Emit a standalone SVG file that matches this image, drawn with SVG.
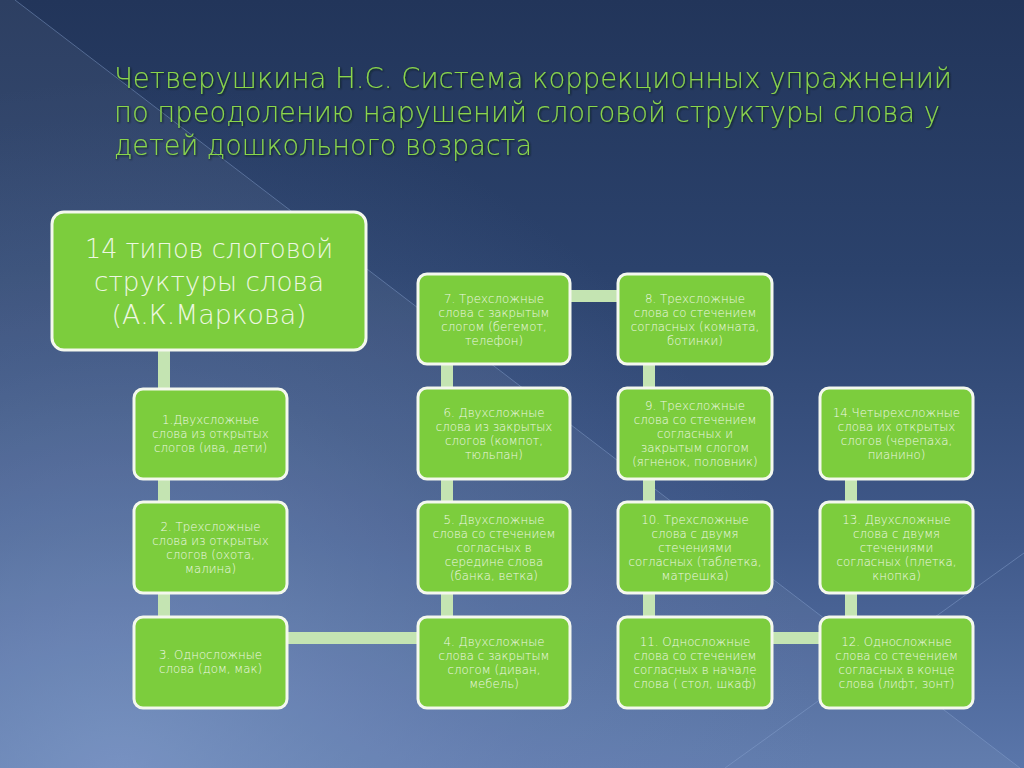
<svg xmlns="http://www.w3.org/2000/svg" width="1024" height="768" viewBox="0 0 1024 768">
  <defs>
    <linearGradient id="bg" x1="0" y1="0" x2="0" y2="1">
      <stop offset="0" stop-color="#22355a"/>
      <stop offset="0.35" stop-color="#2b426c"/>
      <stop offset="0.7" stop-color="#40598a"/>
      <stop offset="1" stop-color="#5a76aa"/>
    </linearGradient>
    <radialGradient id="glow" cx="120" cy="780" r="700" gradientUnits="userSpaceOnUse">
      <stop offset="0" stop-color="#7b97c8" stop-opacity="0.7"/>
      <stop offset="0.6" stop-color="#6a86b8" stop-opacity="0.22"/>
      <stop offset="1" stop-color="#6a86b8" stop-opacity="0"/>
    </radialGradient>
    <filter id="shadow" x="-5%" y="-20%" width="110%" height="140%">
      <feDropShadow dx="1" dy="1" stdDeviation="1.2" flood-color="#0b1a10" flood-opacity="0.8"/>
    </filter>
    <style>
      .title { font-family: "DejaVu Sans", "Liberation Sans", sans-serif; font-weight: 200; font-size: 29px; fill: #8ad64c; }
      .box { fill: #7ccd3d; stroke: #f4f8ee; stroke-width: 3; }
      .big { font-family: "DejaVu Sans", "Liberation Sans", sans-serif; font-weight: 200; font-size: 27px; fill: #eef7e2; text-anchor: middle; }
      .lbl { font-family: "DejaVu Sans", "Liberation Sans", sans-serif; font-weight: 200; font-size: 11.8px; fill: #eef7e4; text-anchor: middle; }
      .bar { fill: #c4e4b2; }
      .streak { stroke: #8aa4d0; stroke-width: 1; fill: none; opacity: 0.45; }
    </style>
  </defs>

  <!-- background -->
  <rect x="0" y="0" width="1024" height="768" fill="url(#bg)"/>
  <rect x="0" y="0" width="1024" height="768" fill="url(#glow)"/>
  <polygon points="0,0 15,0 1020,768 0,768" fill="#ffffff" opacity="0.05"/>
  <line class="streak" x1="15" y1="0" x2="1020" y2="768"/>
  <line class="streak" x1="725" y1="768" x2="1024" y2="553"/>

  <!-- title -->
  <g id="title" filter="url(#shadow)">
    <text class="title" x="114" y="88" textLength="838" lengthAdjust="spacingAndGlyphs">Четверушкина Н.С. Система коррекционных упражнений</text>
    <text class="title" x="114" y="122" textLength="826" lengthAdjust="spacingAndGlyphs">по преодолению нарушений слоговой структуры слова у</text>
    <text class="title" x="114" y="155" textLength="418" lengthAdjust="spacingAndGlyphs">детей дошкольного возраста</text>
  </g>

  <!-- connectors -->
  <g id="connectors">
    <rect class="bar" x="158" y="348" width="12" height="270"/>
    <rect class="bar" x="284" y="632" width="136" height="12"/>
    <rect class="bar" x="441" y="362" width="12" height="256"/>
    <rect class="bar" x="568" y="290" width="52" height="12"/>
    <rect class="bar" x="643" y="362" width="12" height="256"/>
    <rect class="bar" x="770" y="632" width="52" height="12"/>
    <rect class="bar" x="845" y="476" width="12" height="142"/>
  </g>

  <!-- main node -->
  <g id="node-main">
    <rect class="box" x="52" y="212" width="314" height="138" rx="12"/>
    <text class="big" x="209" y="258" textLength="248" lengthAdjust="spacingAndGlyphs">14 типов слоговой</text>
    <text class="big" x="209" y="291" textLength="230" lengthAdjust="spacingAndGlyphs">структуры слова</text>
    <text class="big" x="209" y="324" textLength="195" lengthAdjust="spacingAndGlyphs">(А.К.Маркова)</text>
  </g>

  <g id="node-1">
    <rect class="box" x="134" y="389" width="153" height="90" rx="9"/>
    <text class="lbl" x="210.5" y="424">1.Двухсложные</text>
    <text class="lbl" x="210.5" y="438">слова из открытых</text>
    <text class="lbl" x="210.5" y="452">слогов (ива, дети)</text>
  </g>

  <g id="node-2">
    <rect class="box" x="134" y="502" width="153" height="91" rx="9"/>
    <text class="lbl" x="210.5" y="531">2. Трехсложные</text>
    <text class="lbl" x="210.5" y="545">слова из открытых</text>
    <text class="lbl" x="210.5" y="559">слогов (охота,</text>
    <text class="lbl" x="210.5" y="573">малина)</text>
  </g>

  <g id="node-3">
    <rect class="box" x="134" y="617" width="153" height="91" rx="9"/>
    <text class="lbl" x="210.5" y="659">3. Односложные</text>
    <text class="lbl" x="210.5" y="673">слова (дом, мак)</text>
  </g>

  <g id="node-4">
    <rect class="box" x="418" y="617" width="152" height="91" rx="9"/>
    <text class="lbl" x="494" y="646">4. Двухсложные</text>
    <text class="lbl" x="494" y="660">слова с закрытым</text>
    <text class="lbl" x="494" y="674">слогом (диван,</text>
    <text class="lbl" x="494" y="688">мебель)</text>
  </g>

  <g id="node-5">
    <rect class="box" x="418" y="502" width="152" height="91" rx="9"/>
    <text class="lbl" x="494" y="524">5. Двухсложные</text>
    <text class="lbl" x="494" y="538">слова со стечением</text>
    <text class="lbl" x="494" y="552">согласных в</text>
    <text class="lbl" x="494" y="566">середине слова</text>
    <text class="lbl" x="494" y="580">(банка, ветка)</text>
  </g>

  <g id="node-6">
    <rect class="box" x="418" y="388" width="152" height="91" rx="9"/>
    <text class="lbl" x="494" y="417">6. Двухсложные</text>
    <text class="lbl" x="494" y="431">слова из закрытых</text>
    <text class="lbl" x="494" y="445">слогов (компот,</text>
    <text class="lbl" x="494" y="459">тюльпан)</text>
  </g>

  <g id="node-7">
    <rect class="box" x="418" y="274" width="152" height="90" rx="9"/>
    <text class="lbl" x="494" y="303">7. Трехсложные</text>
    <text class="lbl" x="494" y="317">слова с закрытым</text>
    <text class="lbl" x="494" y="331">слогом (бегемот,</text>
    <text class="lbl" x="494" y="345">телефон)</text>
  </g>

  <g id="node-8">
    <rect class="box" x="618" y="274" width="154" height="90" rx="9"/>
    <text class="lbl" x="695" y="303">8. Трехсложные</text>
    <text class="lbl" x="695" y="317">слова со стечением</text>
    <text class="lbl" x="695" y="331">согласных (комната,</text>
    <text class="lbl" x="695" y="345">ботинки)</text>
  </g>

  <g id="node-9">
    <rect class="box" x="618" y="388" width="154" height="91" rx="9"/>
    <text class="lbl" x="695" y="410">9. Трехсложные</text>
    <text class="lbl" x="695" y="424">слова со стечением</text>
    <text class="lbl" x="695" y="438">согласных и</text>
    <text class="lbl" x="695" y="452">закрытым слогом</text>
    <text class="lbl" x="695" y="466">(ягненок, половник)</text>
  </g>

  <g id="node-10">
    <rect class="box" x="618" y="502" width="154" height="91" rx="9"/>
    <text class="lbl" x="695" y="524">10. Трехсложные</text>
    <text class="lbl" x="695" y="538">слова с двумя</text>
    <text class="lbl" x="695" y="552">стечениями</text>
    <text class="lbl" x="695" y="566">согласных (таблетка,</text>
    <text class="lbl" x="695" y="580">матрешка)</text>
  </g>

  <g id="node-11">
    <rect class="box" x="618" y="617" width="154" height="91" rx="9"/>
    <text class="lbl" x="695" y="646">11. Односложные</text>
    <text class="lbl" x="695" y="660">слова со стечением</text>
    <text class="lbl" x="695" y="674">согласных в начале</text>
    <text class="lbl" x="695" y="688">слова ( стол, шкаф)</text>
  </g>

  <g id="node-12">
    <rect class="box" x="820" y="617" width="153" height="91" rx="9"/>
    <text class="lbl" x="896.5" y="646">12. Односложные</text>
    <text class="lbl" x="896.5" y="660">слова со стечением</text>
    <text class="lbl" x="896.5" y="674">согласных в конце</text>
    <text class="lbl" x="896.5" y="688">слова (лифт, зонт)</text>
  </g>

  <g id="node-13">
    <rect class="box" x="820" y="502" width="153" height="91" rx="9"/>
    <text class="lbl" x="896.5" y="524">13. Двухсложные</text>
    <text class="lbl" x="896.5" y="538">слова с двумя</text>
    <text class="lbl" x="896.5" y="552">стечениями</text>
    <text class="lbl" x="896.5" y="566">согласных (плетка,</text>
    <text class="lbl" x="896.5" y="580">кнопка)</text>
  </g>

  <g id="node-14">
    <rect class="box" x="820" y="388" width="153" height="91" rx="9"/>
    <text class="lbl" x="896.5" y="417">14.Четырехсложные</text>
    <text class="lbl" x="896.5" y="431">слова их открытых</text>
    <text class="lbl" x="896.5" y="445">слогов (черепаха,</text>
    <text class="lbl" x="896.5" y="459">пианино)</text>
  </g>
</svg>
